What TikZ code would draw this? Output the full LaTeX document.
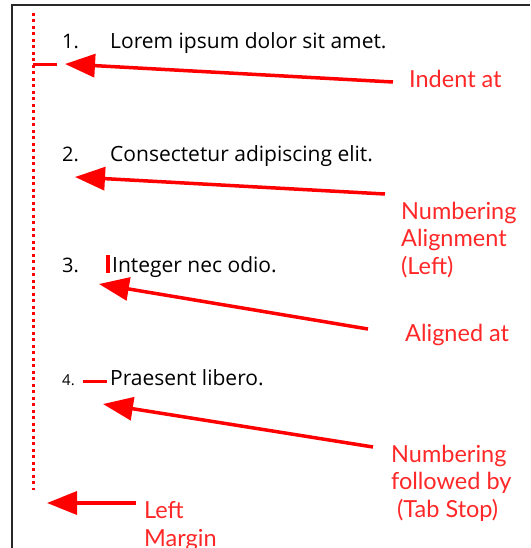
\documentclass[tikz,border=0pt]{standalone}
\usepackage{fontspec}
\setmainfont{Open Sans}
\newfontfamily\redfont{Lato}
\usetikzlibrary{arrows.meta}
\definecolor{arrred}{RGB}{255,0,0}
\definecolor{lblred}{RGB}{255,40,40}
\definecolor{framegray}{RGB}{40,40,40}
\tikzset{
  item/.style={anchor=base west, inner sep=0pt, text=black, font=\fontsize{21}{24}\selectfont},
  num/.style={anchor=base west, inner sep=0pt, text=black, font=\fontsize{20}{24}\selectfont},
  lbl/.style={anchor=base west, inner sep=0pt, text=lblred, align=left, font=\redfont\fontsize{23.5}{27.5}\selectfont},
  bigarrow/.style={draw=arrred, line width=3.5pt, -{Triangle[length=30pt,width=23pt]}},
  redmark/.style={draw=arrred, line width=3pt},
}
\begin{document}
\begin{tikzpicture}[x=1pt,y=-1pt]
\useasboundingbox[fill=white] (0,0) rectangle (530,548);
% frame
\draw[framegray, line width=1.5pt] (12,548) -- (12,5) -- (530,5);
% dotted margin line
\coordinate (mtop) at (33,13);
\coordinate (mbot) at (33,490);
\draw[arrred, line width=3pt, dash pattern=on 3pt off 3.5pt] (mtop) -- (mbot);
% items
\node[num]  (n1) at (62,49) {1.};
\node[item] (t1) at (110,49) {Lorem ipsum dolor sit amet.};
\node[num]  (n2) at (62,161) {2.};
\node[item] (t2) at (110,161) {Consectetur adipiscing elit.};
\node[num]  (n3) at (62,272) {3.};
\node[item] (t3) at (112,272) {Integer nec odio.};
\node[num, font=\fontsize{15}{18}\selectfont] (n4) at (62,385) {4.};
\node[item] (t4) at (110,385) {Praesent libero.};
% red marks
\coordinate (ia) at (33,65);
\coordinate (ib) at (57,65);
\draw[redmark] (ia) -- (ib);
\coordinate (ba) at (108,255);
\coordinate (bb) at (108,273);
\draw[draw=arrred, line width=4pt] (ba) -- (bb);
\coordinate (da) at (83,381);
\coordinate (db) at (107,381);
\draw[redmark] (da) -- (db);
% labels (base = baseline of last line)
\node[lbl] (l1) at (409,88) {Indent at};
\node[lbl] (l2) at (401,274) {Numbering\\Alignment\\(Left)};
\node[lbl] (l3) at (405,341) {Aligned at};
\node[lbl] (l4) at (391,517) {Numbering\\followed by\\\ (Tab Stop)};
\node[lbl] (l5) at (144,546) {Left\\Margin};
% arrows
\coordinate (a1s) at (393,82);  \coordinate (a1e) at (65,64);
\coordinate (a2s) at (385,194); \coordinate (a2e) at (75,177);
\coordinate (a3s) at (368,329); \coordinate (a3e) at (99,284);
\coordinate (a4s) at (373,447); \coordinate (a4e) at (103,404);
\coordinate (a5s) at (136,503); \coordinate (a5e) at (47,503);
\draw[bigarrow] (a1s) -- (a1e);
\draw[bigarrow] (a2s) -- (a2e);
\draw[bigarrow] (a3s) -- (a3e);
\draw[bigarrow] (a4s) -- (a4e);
\draw[bigarrow] (a5s) -- (a5e);
\end{tikzpicture}
\end{document}
